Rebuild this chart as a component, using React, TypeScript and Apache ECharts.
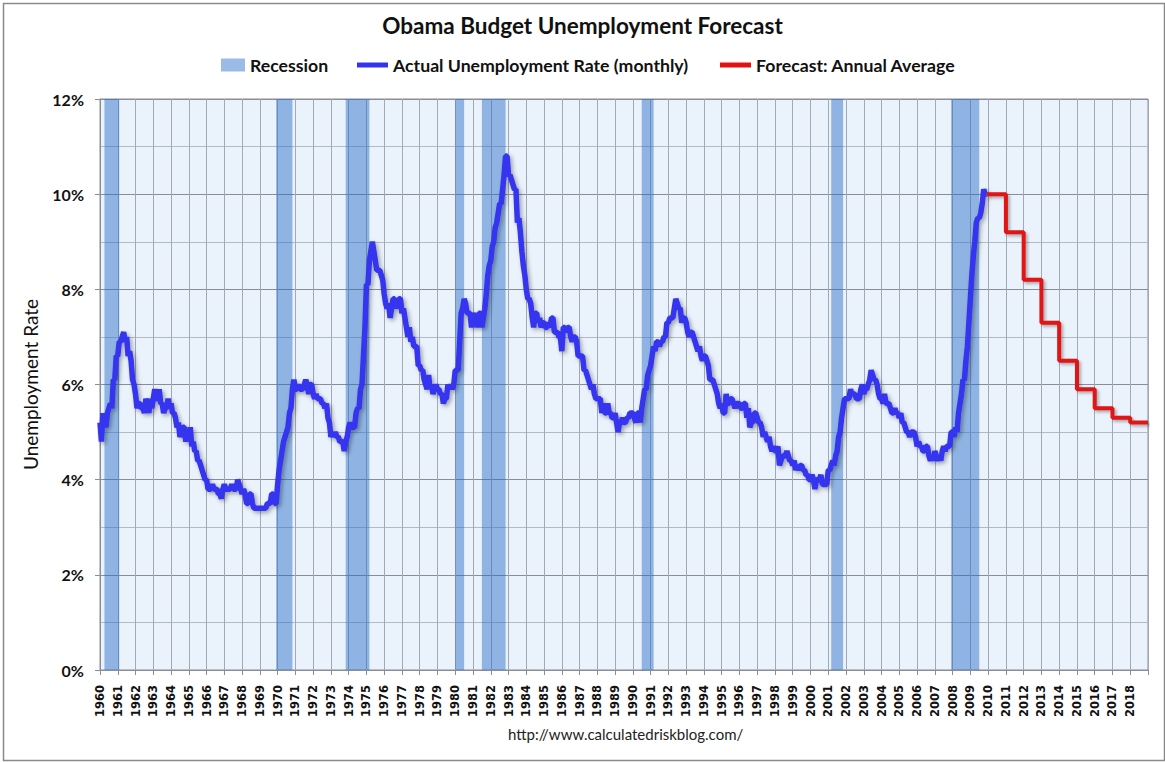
import React, { useEffect, useRef } from "react";
import * as echarts from "echarts";

// Monthly unemployment rate (%), Jan–Dec of each year
const u1960s = [
  5.2, 4.8, 5.4, 5.2, 5.1, 5.4, 5.5, 5.6, 5.5, 6.1, 6.1, 6.6,
  6.6, 6.9, 6.9, 7.0, 7.1, 6.9, 7.0, 6.6, 6.7, 6.5, 6.1, 6.0,
  5.8, 5.5, 5.6, 5.6, 5.5, 5.5, 5.4, 5.7, 5.6, 5.4, 5.7, 5.5,
  5.7, 5.9, 5.7, 5.7, 5.9, 5.6, 5.6, 5.4, 5.5, 5.5, 5.7, 5.5,
  5.6, 5.4, 5.4, 5.3, 5.1, 5.2, 4.9, 5.0, 5.1, 5.1, 4.8, 5.0,
  4.9, 5.1, 4.7, 4.8, 4.6, 4.6, 4.4, 4.4, 4.3, 4.2, 4.1, 4.0,
  4.0, 3.8, 3.8, 3.8, 3.9, 3.8, 3.8, 3.8, 3.7, 3.7, 3.6, 3.8,
  3.9, 3.8, 3.8, 3.8, 3.8, 3.9, 3.8, 3.8, 3.8, 4.0, 3.9, 3.8,
  3.7, 3.8, 3.7, 3.5, 3.5, 3.7, 3.7, 3.5, 3.4, 3.4, 3.4, 3.4,
  3.4, 3.4, 3.4, 3.4, 3.4, 3.5, 3.5, 3.5, 3.7, 3.7, 3.5, 3.5,
];
const u1970s = [
  3.9, 4.2, 4.4, 4.6, 4.8, 4.9, 5.0, 5.1, 5.4, 5.5, 5.9, 6.1,
  5.9, 5.9, 6.0, 5.9, 5.9, 5.9, 6.0, 6.1, 6.0, 5.8, 6.0, 6.0,
  5.8, 5.7, 5.8, 5.7, 5.7, 5.7, 5.6, 5.6, 5.5, 5.6, 5.3, 5.2,
  4.9, 5.0, 4.9, 5.0, 4.9, 4.9, 4.8, 4.8, 4.8, 4.6, 4.8, 4.9,
  5.1, 5.2, 5.1, 5.1, 5.1, 5.4, 5.5, 5.5, 5.9, 6.0, 6.6, 7.2,
  8.1, 8.1, 8.6, 8.8, 9.0, 8.8, 8.6, 8.4, 8.4, 8.4, 8.3, 8.2,
  7.9, 7.7, 7.6, 7.7, 7.4, 7.6, 7.8, 7.8, 7.6, 7.7, 7.8, 7.8,
  7.5, 7.6, 7.4, 7.2, 7.0, 7.2, 6.9, 7.0, 6.8, 6.8, 6.8, 6.4,
  6.4, 6.3, 6.3, 6.1, 6.0, 5.9, 6.2, 5.9, 6.0, 5.8, 5.9, 6.0,
  5.9, 5.9, 5.8, 5.8, 5.6, 5.7, 5.7, 6.0, 5.9, 6.0, 5.9, 6.0,
];
const u1980s = [
  6.3, 6.3, 6.3, 6.9, 7.5, 7.6, 7.8, 7.7, 7.5, 7.5, 7.5, 7.2,
  7.5, 7.4, 7.4, 7.2, 7.5, 7.5, 7.2, 7.4, 7.6, 7.9, 8.3, 8.5,
  8.6, 8.9, 9.0, 9.3, 9.4, 9.6, 9.8, 9.8, 10.1, 10.4, 10.8, 10.8,
  10.4, 10.4, 10.3, 10.2, 10.1, 10.1, 9.4, 9.5, 9.2, 8.8, 8.5, 8.3,
  8.0, 7.8, 7.8, 7.7, 7.4, 7.2, 7.5, 7.5, 7.3, 7.4, 7.2, 7.3,
  7.3, 7.2, 7.2, 7.3, 7.2, 7.4, 7.4, 7.1, 7.1, 7.1, 7.0, 7.0,
  6.7, 7.2, 7.2, 7.1, 7.2, 7.2, 7.0, 6.9, 7.0, 7.0, 6.9, 6.6,
  6.6, 6.6, 6.6, 6.3, 6.3, 6.2, 6.1, 6.0, 5.9, 6.0, 5.8, 5.7,
  5.7, 5.7, 5.7, 5.4, 5.6, 5.4, 5.4, 5.6, 5.4, 5.4, 5.3, 5.3,
  5.4, 5.2, 5.0, 5.2, 5.2, 5.3, 5.2, 5.2, 5.3, 5.3, 5.4, 5.4,
];
const u1990s = [
  5.4, 5.3, 5.2, 5.4, 5.4, 5.2, 5.5, 5.7, 5.9, 5.9, 6.2, 6.3,
  6.4, 6.6, 6.8, 6.7, 6.9, 6.9, 6.8, 6.9, 6.9, 7.0, 7.0, 7.3,
  7.3, 7.4, 7.4, 7.4, 7.6, 7.8, 7.7, 7.6, 7.6, 7.3, 7.4, 7.4,
  7.3, 7.1, 7.0, 7.1, 7.1, 7.0, 6.9, 6.8, 6.7, 6.8, 6.6, 6.5,
  6.6, 6.6, 6.5, 6.4, 6.1, 6.1, 6.1, 6.0, 5.9, 5.8, 5.6, 5.5,
  5.6, 5.4, 5.4, 5.8, 5.6, 5.6, 5.7, 5.7, 5.6, 5.5, 5.6, 5.6,
  5.6, 5.5, 5.5, 5.6, 5.6, 5.3, 5.5, 5.1, 5.2, 5.2, 5.4, 5.4,
  5.3, 5.2, 5.2, 5.1, 4.9, 5.0, 4.9, 4.8, 4.9, 4.7, 4.6, 4.7,
  4.6, 4.6, 4.7, 4.3, 4.4, 4.5, 4.5, 4.5, 4.6, 4.5, 4.4, 4.4,
  4.3, 4.4, 4.2, 4.3, 4.2, 4.3, 4.3, 4.2, 4.2, 4.1, 4.1, 4.0,
];
const u2000s = [
  4.0, 4.1, 4.0, 3.8, 4.0, 4.0, 4.0, 4.1, 3.9, 3.9, 3.9, 3.9,
  4.2, 4.2, 4.3, 4.4, 4.3, 4.5, 4.6, 4.9, 5.0, 5.3, 5.5, 5.7,
  5.7, 5.7, 5.7, 5.9, 5.8, 5.8, 5.8, 5.7, 5.7, 5.7, 5.9, 6.0,
  5.8, 5.9, 5.9, 6.0, 6.1, 6.3, 6.2, 6.1, 6.1, 6.0, 5.8, 5.7,
  5.7, 5.6, 5.8, 5.6, 5.6, 5.6, 5.5, 5.4, 5.4, 5.5, 5.4, 5.4,
  5.3, 5.4, 5.2, 5.2, 5.1, 5.0, 5.0, 4.9, 5.0, 5.0, 5.0, 4.9,
  4.7, 4.8, 4.7, 4.7, 4.6, 4.6, 4.7, 4.7, 4.5, 4.4, 4.5, 4.4,
  4.6, 4.5, 4.4, 4.5, 4.4, 4.6, 4.7, 4.6, 4.7, 4.7, 4.7, 5.0,
  5.0, 4.9, 5.1, 5.0, 5.4, 5.6, 5.8, 6.1, 6.1, 6.5, 6.8, 7.3,
  7.8, 8.3, 8.7, 9.0, 9.4, 9.5, 9.5, 9.6, 9.8, 10.1, 10.0, 10.0,
];
const firstYear = 1960;

// Forecast: annual average (%)
const forecastYears = [2010, 2011, 2012, 2013, 2014, 2015, 2016, 2017, 2018];
const forecastValues = [10.0, 9.2, 8.2, 7.3, 6.5, 5.9, 5.5, 5.3, 5.2];

// Recessions (decimal years: start month, end month)
const recessionStart = [1960.25, 1969.917, 1973.833, 1980.0, 1981.5, 1990.5, 2001.167, 2007.917];
const recessionEnd = [1961.083, 1970.833, 1975.167, 1980.5, 1982.833, 1991.167, 2001.833, 2009.5];

// Axes
const xMin = 1960;
const xMax = 2019;
const yMax = 12;
const yStep = 2;

const FONT = "Lato, 'Noto Sans', sans-serif";

export default function App() {
  const ref = useRef<HTMLDivElement>(null);

  useEffect(() => {
    if (!ref.current) return;
    const chart = echarts.init(ref.current, undefined, { renderer: "svg" });

    const monthly = [...u1960s, ...u1970s, ...u1980s, ...u1990s, ...u2000s];
    const actual = monthly.map((v, i) => [firstYear + i / 12, v]);
    const lastX = actual[actual.length - 1][0] as number;

    const forecast: number[][] = forecastYears.map((y, i) => [i === 0 ? Math.min(y, lastX) : y, forecastValues[i]]);
    forecast.push([forecastYears[forecastYears.length - 1] + 1, forecastValues[forecastValues.length - 1]]);

    const recessions = recessionStart.map((s, i) => [s, recessionEnd[i]]);
    const bandColor = "rgba(35,106,198,0.46)";

    const legendText = { fontFamily: FONT, fontSize: 17.7, fontWeight: "bold", color: "#111" };

    chart.setOption({
      animation: false,
      backgroundColor: "#ffffff",
      title: {
        text: "Obama Budget Unemployment Forecast",
        left: "center",
        top: 9,
        textStyle: { fontFamily: FONT, fontSize: 22.5, fontWeight: "bold", color: "#111" },
      },
      legend: [
        {
          data: ["Recession"],
          left: 221,
          top: 56,
          padding: 0,
          icon: "rect",
          itemWidth: 24,
          itemHeight: 13,
          textStyle: legendText,
        },
        {
          data: ["Actual Unemployment Rate (monthly)"],
          left: 357,
          top: 56,
          padding: 0,
          icon: "rect",
          itemWidth: 31,
          itemHeight: 5,
          textStyle: legendText,
        },
        {
          data: ["Forecast: Annual Average"],
          left: 720,
          top: 56,
          padding: 0,
          icon: "rect",
          itemWidth: 31,
          itemHeight: 5,
          textStyle: legendText,
        },
      ],
      grid: {
        left: 100,
        right: 17,
        top: 99,
        bottom: 92,
        show: true,
        backgroundColor: "#eaf2fb",
        borderColor: "#8a8d95",
        borderWidth: 1,
      },
      xAxis: {
        type: "value",
        min: xMin,
        max: xMax,
        interval: 1,
        axisLine: { show: true, lineStyle: { color: "#8a8d95", width: 1 } },
        axisTick: { show: true, length: 5, lineStyle: { color: "#8a8d95" } },
        axisLabel: {
          rotate: 90,
          margin: 15,
          fontFamily: "'DejaVu Sans', sans-serif",
          fontSize: 11.5,
          fontWeight: "bold",
          color: "#111",
          formatter: (v: number) => (v < xMax ? String(v) : ""),
        },
        splitLine: { show: true, lineStyle: { color: "#a3a8b6", width: 1 } },
      },
      yAxis: {
        type: "value",
        min: 0,
        max: yMax,
        interval: yStep,
        name: "Unemployment Rate",
        nameLocation: "middle",
        nameGap: 60,
        nameTextStyle: { fontFamily: FONT, fontSize: 19, color: "#111" },
        axisLine: { show: true, lineStyle: { color: "#8a8d95", width: 1 } },
        axisTick: { show: true, length: 5, lineStyle: { color: "#8a8d95" } },
        axisLabel: {
          margin: 16,
          fontFamily: FONT,
          fontSize: 16,
          fontWeight: "bold",
          color: "#111",
          formatter: "{value}%",
        },
        splitLine: { show: true, lineStyle: { color: "#8a8d95", width: 1 } },
        minorTick: { show: false, splitNumber: 2 },
        minorSplitLine: { show: true, lineStyle: { color: "#b3b9c6", width: 1 } },
      },
      series: [
        {
          name: "Recession",
          type: "custom",
          data: recessions,
          encode: { x: [0, 1] },
          itemStyle: { color: bandColor },
          renderItem: (params: any, api: any) => {
            const cs = params.coordSys;
            const s = api.coord([api.value(0), 0]);
            const e = api.coord([api.value(1), 0]);
            return {
              type: "rect",
              shape: { x: s[0], y: cs.y, width: e[0] - s[0], height: cs.height },
              style: { fill: bandColor },
            };
          },
          z: 1,
        },
        {
          name: "Actual Unemployment Rate (monthly)",
          type: "line",
          data: actual,
          showSymbol: false,
          symbol: "none",
          itemStyle: { color: "#3434f0" },
          lineStyle: {
            color: "#3434f0",
            width: 5.5,
            shadowColor: "rgba(0,0,0,0.35)",
            shadowBlur: 4,
            shadowOffsetX: 2,
            shadowOffsetY: 2,
          },
          z: 3,
        },
        {
          name: "Forecast: Annual Average",
          type: "line",
          step: "end",
          data: forecast,
          showSymbol: false,
          symbol: "none",
          itemStyle: { color: "#e01212" },
          lineStyle: {
            color: "#e01212",
            width: 4,
            shadowColor: "rgba(0,0,0,0.3)",
            shadowBlur: 3,
            shadowOffsetX: 2,
            shadowOffsetY: 2,
          },
          z: 3,
        },
      ],
      graphic: [
        {
          type: "text",
          left: 508,
          top: 726,
          style: {
            text: "http://www.calculatedriskblog.com/",
            fontFamily: FONT,
            fontSize: 15,
            fill: "#222",
          },
        },
        {
          type: "rect",
          left: 1,
          top: 1,
          shape: { x: 0, y: 0, width: 1161, height: 757 },
          style: { fill: "none", stroke: "#8a8a8a", lineWidth: 1.5 },
          silent: true,
        },
      ],
    });

    return () => chart.dispose();
  }, []);

  return (
    <div
      ref={ref}
      style={{ position: "fixed", left: 0, top: 0, width: 1165, height: 762 }}
    />
  );
}
